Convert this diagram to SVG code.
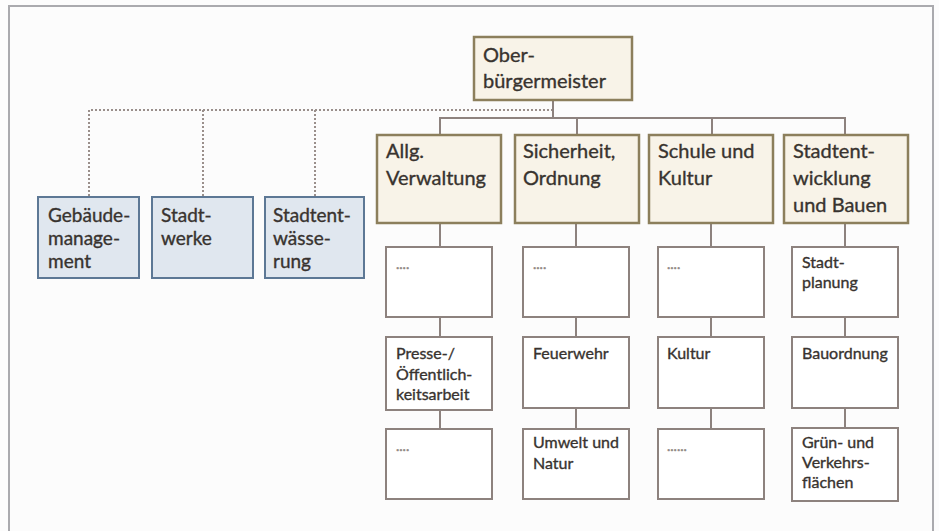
<svg xmlns="http://www.w3.org/2000/svg" width="939" height="531" viewBox="0 0 939 531">
<style>
  .bg{fill:#fcfcfc}
  .frame{fill:none;stroke:#aaaaae;stroke-width:2}
  .head{fill:#f8f3e8;stroke:#8c7f5c;stroke-width:2.5}
  .blue{fill:#e0e7ef;stroke:#5d7895;stroke-width:2}
  .sub{fill:#ffffff;stroke:#8d827e;stroke-width:2}
  .conn{fill:none;stroke:#8d827e;stroke-width:2}
  .dash{fill:none;stroke:#9a8f8b;stroke-width:2;stroke-dasharray:2 2}
  text{font-family:Lato,"Liberation Sans",sans-serif;fill:#38332f;stroke:#38332f;stroke-width:0.35}
  .t20{font-size:20px}
  .t19{font-size:19px}
  .t16{font-size:16px}
  .dots{font-size:14px;fill:#8f8783;stroke:#8f8783;stroke-width:0.5}
</style>
<rect class="bg" x="0" y="0" width="939" height="531"/>
<path class="frame" d="M9,531 V6 H933 V531"/>

<g id="connectors">
  <path class="dash" d="M553,110 H89 V197 M203,110 V197 M315,110 V197"/>
  <path class="conn" d="M553,100 V118 M440,135 V118 H845 V135 M577,118 V135 M712,118 V135"/>
  <path class="conn" d="M440,223 V247 M440,317 V337 M440,410 V429"/>
  <path class="conn" d="M576,223 V247 M576,317 V337 M576,408 V429"/>
  <path class="conn" d="M711,223 V247 M711,317 V337 M711,408 V429"/>
  <path class="conn" d="M845,223 V247 M845,317 V337 M845,408 V428"/>
</g>

<g id="oberbuergermeister">
  <rect class="head" x="474" y="37" width="158" height="63"/>
  <text class="t20" x="483" y="62">Ober-</text>
  <text class="t20" x="483" y="88">bürgermeister</text>
</g>

<g id="gebaeudemanagement">
  <rect class="blue" x="38" y="197" width="101" height="81"/>
  <text class="t19" x="48" y="222">Gebäude-</text>
  <text class="t19" x="48" y="245">manage-</text>
  <text class="t19" x="48" y="268">ment</text>
</g>
<g id="stadtwerke">
  <rect class="blue" x="152" y="197" width="101" height="81"/>
  <text class="t19" x="161" y="222">Stadt-</text>
  <text class="t19" x="161" y="245">werke</text>
</g>
<g id="stadtentwaesserung">
  <rect class="blue" x="265" y="197" width="99" height="81"/>
  <text class="t19" x="273" y="222">Stadtent-</text>
  <text class="t19" x="273" y="245">wässe-</text>
  <text class="t19" x="273" y="268">rung</text>
</g>

<g id="allg-verwaltung">
  <rect class="head" x="377" y="135" width="124" height="88"/>
  <text class="t20" x="386" y="158">Allg.</text>
  <text class="t20" x="386" y="185">Verwaltung</text>
</g>
<g id="sicherheit-ordnung">
  <rect class="head" x="515" y="135" width="124" height="88"/>
  <text class="t20" x="523" y="158">Sicherheit,</text>
  <text class="t20" x="523" y="185">Ordnung</text>
</g>
<g id="schule-kultur">
  <rect class="head" x="649" y="135" width="124" height="88"/>
  <text class="t20" x="658" y="158">Schule und</text>
  <text class="t20" x="658" y="185">Kultur</text>
</g>
<g id="stadtentwicklung-bauen">
  <rect class="head" x="784" y="135" width="124" height="88"/>
  <text class="t20" x="793" y="158">Stadtent-</text>
  <text class="t20" x="793" y="185">wicklung</text>
  <text class="t20" x="793" y="212">und Bauen</text>
</g>

<g id="av-1">
  <rect class="sub" x="386" y="247" width="106" height="70"/>
  <text class="dots" x="396" y="269">....</text>
</g>
<g id="av-2">
  <rect class="sub" x="386" y="337" width="106" height="73"/>
  <text class="t16" x="396" y="359">Presse-/</text>
  <text class="t16" x="396" y="380">Öffentlich-</text>
  <text class="t16" x="396" y="400">keitsarbeit</text>
</g>
<g id="av-3">
  <rect class="sub" x="386" y="429" width="106" height="70"/>
  <text class="dots" x="396" y="451">....</text>
</g>

<g id="so-1">
  <rect class="sub" x="523" y="247" width="106" height="70"/>
  <text class="dots" x="533" y="269">....</text>
</g>
<g id="so-2">
  <rect class="sub" x="523" y="337" width="106" height="71"/>
  <text class="t16" x="533" y="359">Feuerwehr</text>
</g>
<g id="so-3">
  <rect class="sub" x="523" y="429" width="106" height="70"/>
  <text class="t16" x="533" y="448">Umwelt und</text>
  <text class="t16" x="533" y="469">Natur</text>
</g>

<g id="sk-1">
  <rect class="sub" x="658" y="247" width="106" height="70"/>
  <text class="dots" x="667" y="269">....</text>
</g>
<g id="sk-2">
  <rect class="sub" x="658" y="337" width="106" height="71"/>
  <text class="t16" x="667" y="359">Kultur</text>
</g>
<g id="sk-3">
  <rect class="sub" x="658" y="429" width="106" height="70"/>
  <text class="dots" x="667" y="451">......</text>
</g>

<g id="sb-1">
  <rect class="sub" x="792" y="247" width="106" height="70"/>
  <text class="t16" x="802" y="268">Stadt-</text>
  <text class="t16" x="802" y="288">planung</text>
</g>
<g id="sb-2">
  <rect class="sub" x="792" y="337" width="106" height="71"/>
  <text class="t16" x="802" y="359">Bauordnung</text>
</g>
<g id="sb-3">
  <rect class="sub" x="792" y="428" width="106" height="73"/>
  <text class="t16" x="802" y="448">Grün- und</text>
  <text class="t16" x="802" y="468">Verkehrs-</text>
  <text class="t16" x="802" y="488">flächen</text>
</g>
</svg>
